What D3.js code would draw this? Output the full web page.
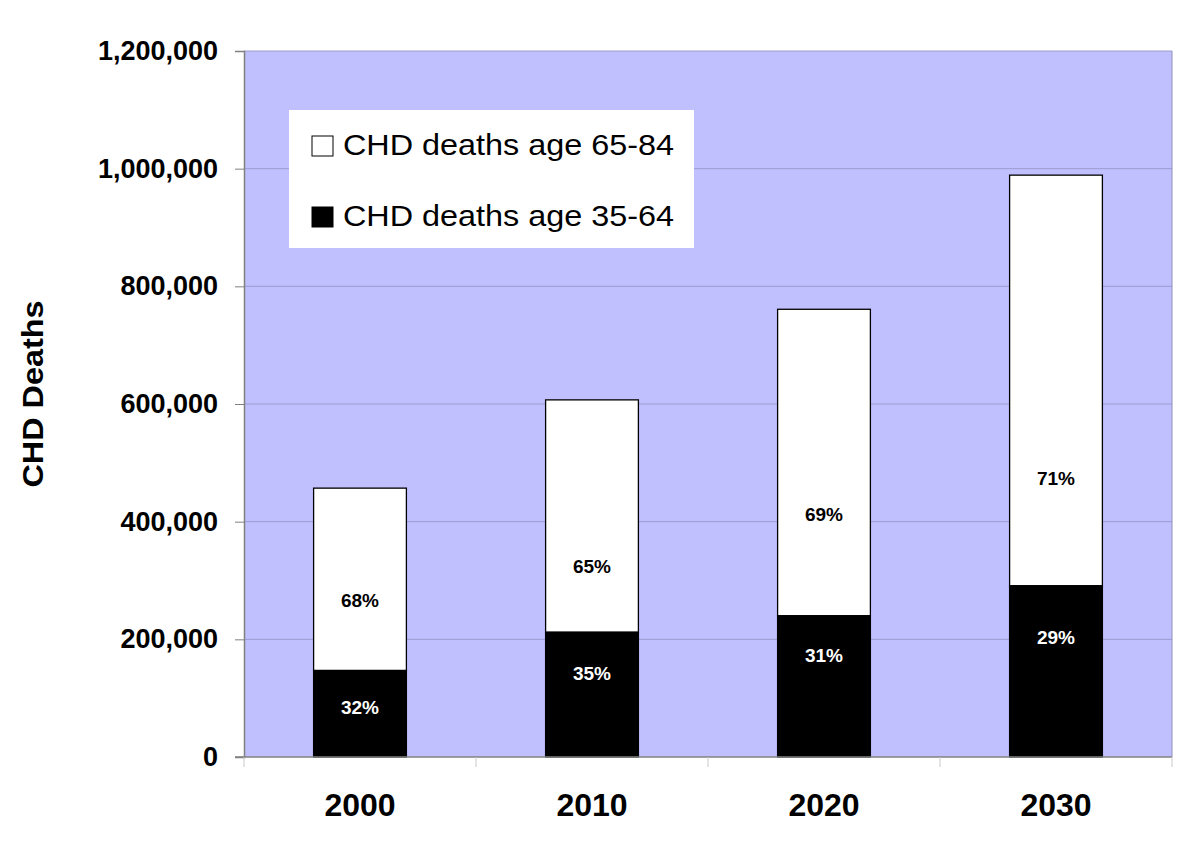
<!DOCTYPE html>
<html><head><meta charset="utf-8">
<script src="https://cdn.jsdelivr.net/npm/d3@7"></script>
<style>body{margin:0;background:#fff}svg{display:block}text{font-family:"Liberation Sans",Arial,sans-serif}</style>
</head><body><svg id="c" width="1200" height="847"></svg>
<script>
const years = ["2000","2010","2020","2030"];
const young = [147000, 212000, 240000, 291000];   // CHD deaths age 35-64
const old   = [310000, 395000, 521000, 698000];   // CHD deaths age 65-84
const youngPct = ["32%","35%","31%","29%"];
const oldPct = ["68%","65%","69%","71%"];
// value (in deaths) at which each percentage label's baseline sits
const youngLabelAt = [73000, 131000, 161500, 192000];
const oldLabelAt   = [255000, 312700, 401000, 462300];
const yTicks = [0,200000,400000,600000,800000,1000000,1200000];
const legendLabels = ["CHD deaths age 65-84","CHD deaths age 35-64"];

const svg = d3.select("#c");
const L=244,R=1172,T=51,B=757;
const x = d3.scaleBand().domain(years).range([L,R]).paddingInner(0.6).paddingOuter(0.3);
const xb = d3.scaleBand().domain(years).range([L,R]);
const y = d3.scaleLinear().domain([0,1200000]).range([B,T]);

svg.append("rect").attr("x",L).attr("y",T).attr("width",R-L).attr("height",B-T).attr("fill","#c0c0ff");
svg.append("g").selectAll("line").data(yTicks.slice(1)).join("line")
  .attr("x1",L).attr("x2",R).attr("y1",d=>y(d)).attr("y2",d=>y(d)).attr("stroke","#9c9cd0").attr("stroke-width",1);
svg.append("line").attr("x1",R).attr("x2",R).attr("y1",T).attr("y2",B).attr("stroke","#9090b8");

// bars
const g = svg.append("g");
years.forEach((yr,i)=>{
  g.append("rect").attr("x",x(yr)).attr("width",x.bandwidth()).attr("y",y(young[i]+old[i])).attr("height",y(young[i])-y(young[i]+old[i]))
    .attr("fill","#fff").attr("stroke","#000").attr("stroke-width",1.3);
  g.append("rect").attr("x",x(yr)).attr("width",x.bandwidth()).attr("y",y(young[i])).attr("height",y(0)-y(young[i]))
    .attr("fill","#000").attr("stroke","#000").attr("stroke-width",1.3);
  g.append("text").attr("x",x(yr)+x.bandwidth()/2).attr("y",y(youngLabelAt[i])).attr("text-anchor","middle")
    .attr("font-size",19).attr("font-weight","bold").attr("fill","#fff").text(youngPct[i]);
  g.append("text").attr("x",x(yr)+x.bandwidth()/2).attr("y",y(oldLabelAt[i])).attr("text-anchor","middle")
    .attr("font-size",19).attr("font-weight","bold").attr("fill","#000").text(oldPct[i]);
});

// axes
const ya = svg.append("g").attr("transform",`translate(${L},0)`)
  .call(d3.axisLeft(y).tickValues(yTicks).tickSize(9).tickPadding(17).tickFormat(d3.format(",")));
ya.select(".domain").attr("stroke","#808080").attr("stroke-width",1.5);
ya.selectAll(".tick line").attr("stroke","#808080");
ya.selectAll("text").attr("font-size",27).attr("font-weight","bold").attr("fill","#000")
  .style("font-family","'Liberation Sans',Arial,sans-serif");

const xa = svg.append("g").attr("transform",`translate(0,${B})`);
xa.append("line").attr("x1",L-9).attr("x2",R).attr("y1",0).attr("y2",0).attr("stroke","#808080").attr("stroke-width",1.5);
const bounds = years.map(d=>xb(d)).concat([R]);
xa.selectAll("line.tk").data(bounds).join("line").attr("class","tk")
  .attr("x1",d=>d).attr("x2",d=>d).attr("y1",0).attr("y2",10).attr("stroke","#c8c8c8");
xa.selectAll("text").data(years).join("text").attr("x",d=>xb(d)+xb.bandwidth()/2).attr("y",59)
  .attr("text-anchor","middle").attr("font-size",32).attr("font-weight","bold").text(d=>d);

svg.append("text").attr("transform","translate(43,394) rotate(-90)").attr("text-anchor","middle")
  .attr("font-size",30).attr("font-weight","bold").attr("textLength",187).attr("lengthAdjust","spacingAndGlyphs").text("CHD Deaths");

// legend
const lg = svg.append("g");
lg.append("rect").attr("x",289).attr("y",110).attr("width",405).attr("height",138).attr("fill","#fff");
const fills = ["#fff","#000"];
legendLabels.forEach((t,i)=>{
  const cy = 146 + i*71;
  lg.append("rect").attr("x",312).attr("y",cy-10).attr("width",21).attr("height",20).attr("fill",fills[i]).attr("stroke","#000").attr("stroke-width",1);
  lg.append("text").attr("x",343).attr("y",cy+9).attr("font-size",29)
    .attr("textLength",331).attr("lengthAdjust","spacingAndGlyphs").text(t);
});
</script></body></html>
